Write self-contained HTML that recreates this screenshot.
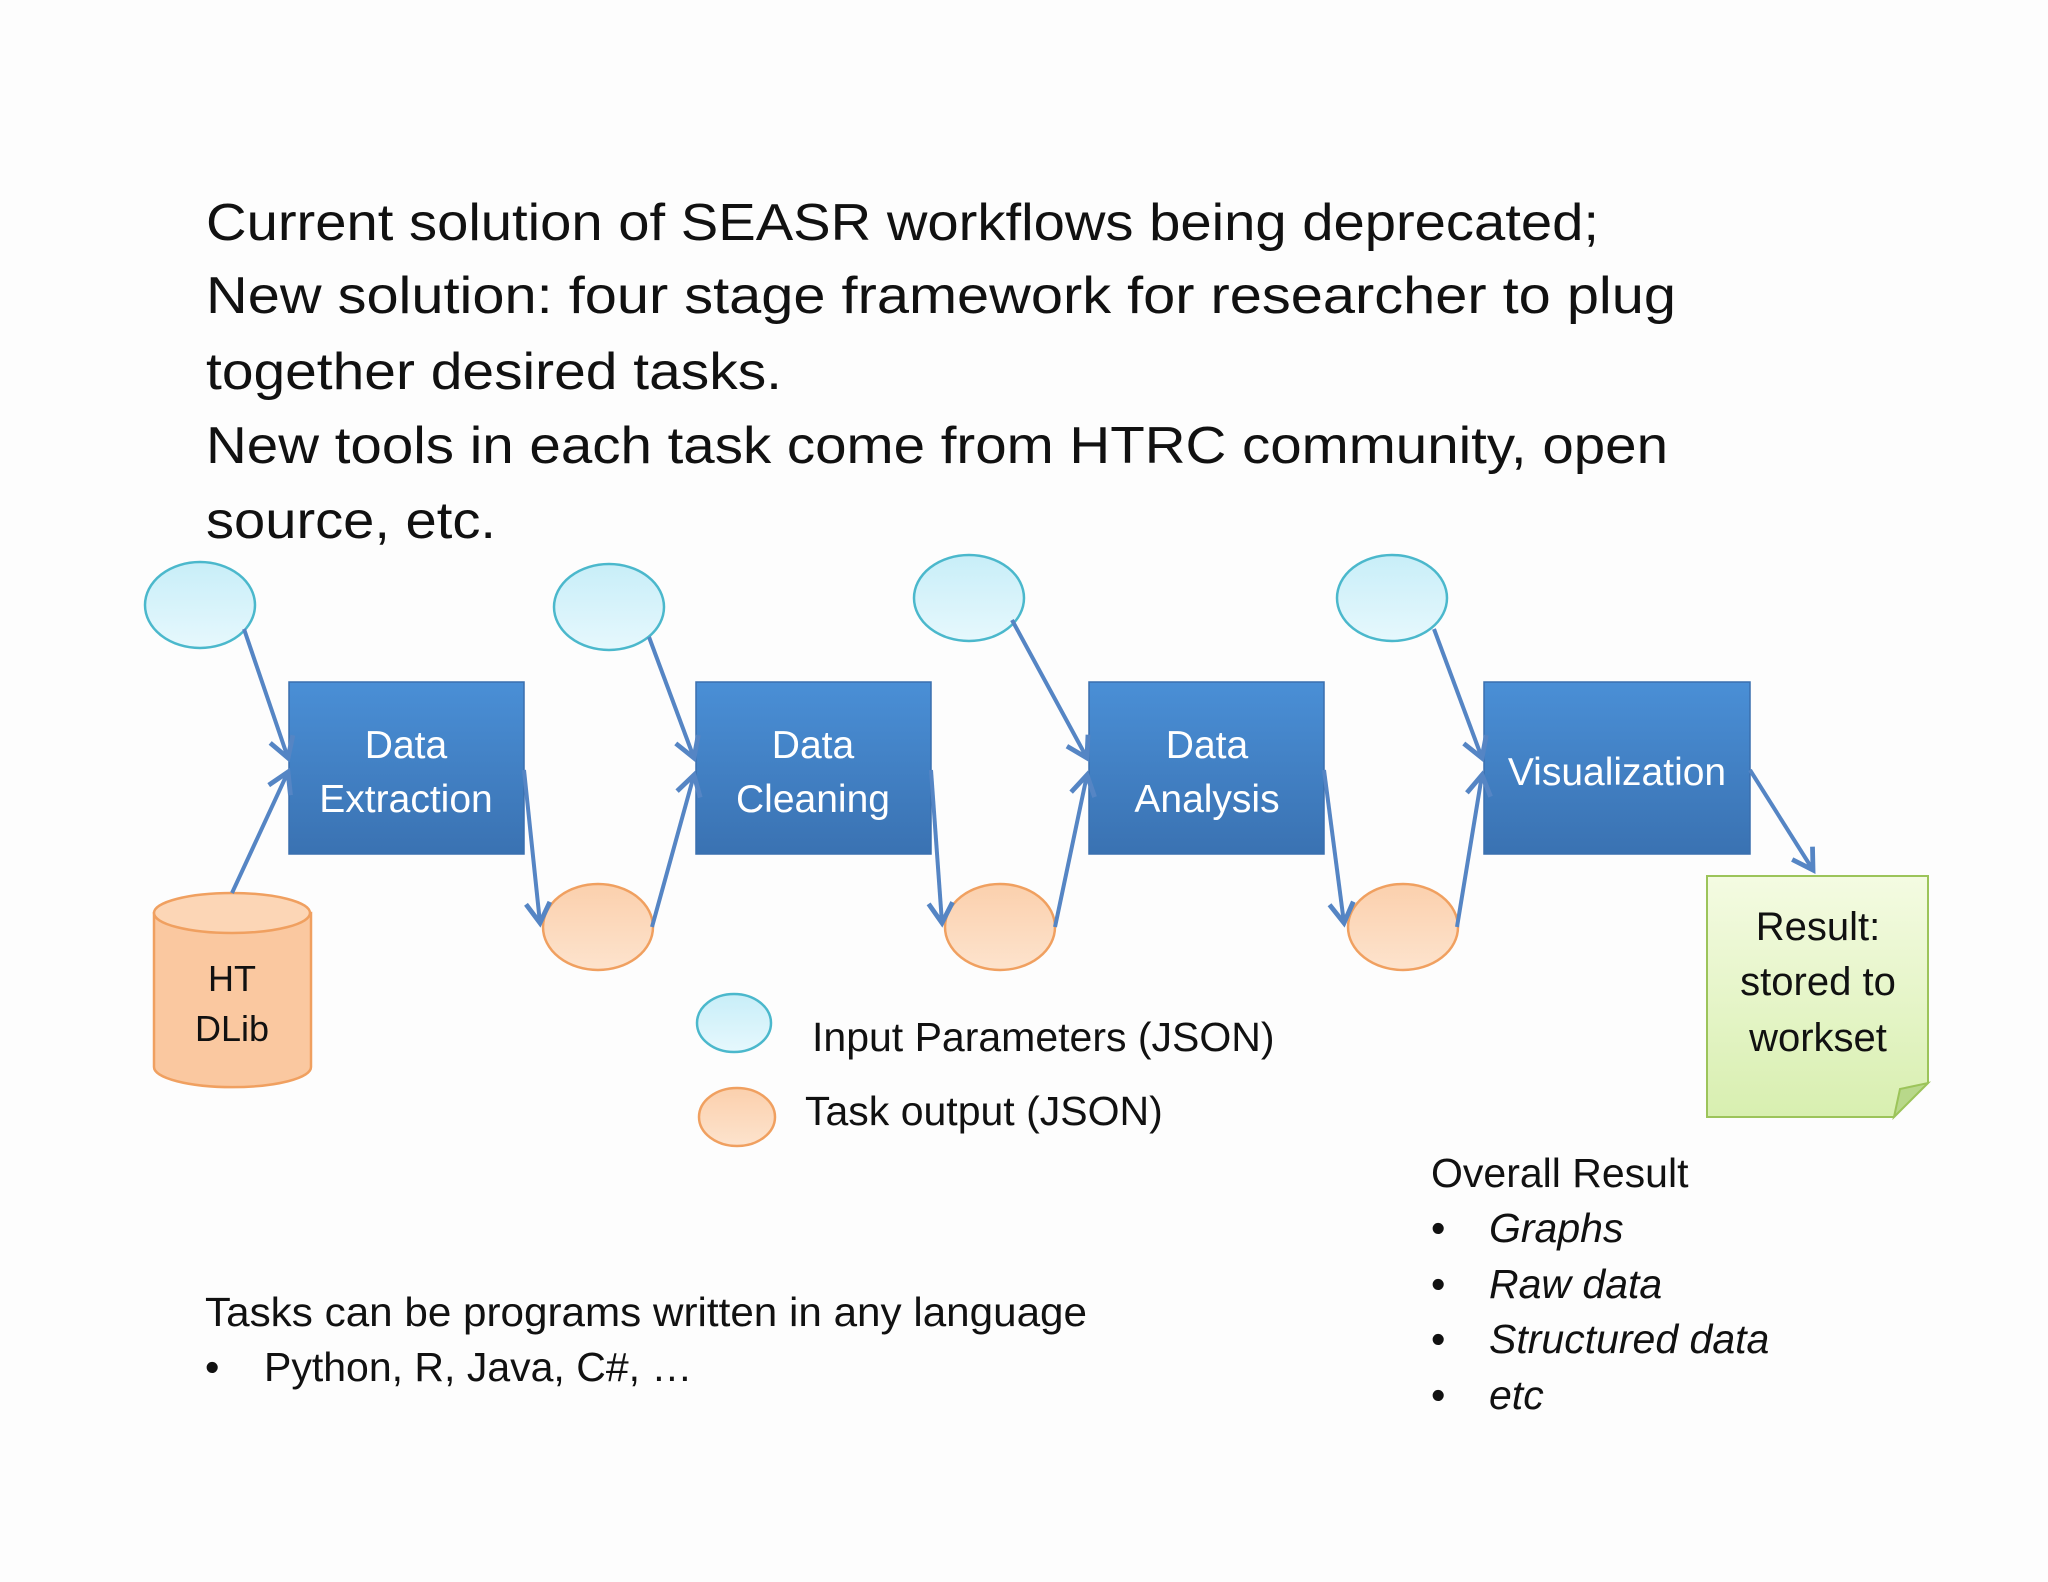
<!DOCTYPE html>
<html><head><meta charset="utf-8"><style>
html,body{margin:0;padding:0;background:#fdfdfd;}
svg{display:block;}
text{font-family:"Liberation Sans",sans-serif;}
</style></head><body>
<svg width="2048" height="1582" viewBox="0 0 2048 1582" xmlns="http://www.w3.org/2000/svg">
<defs>
<linearGradient id="bl" x1="0" y1="0" x2="0" y2="1"><stop offset="0" stop-color="#4a8fd6"/><stop offset="1" stop-color="#3a72b2"/></linearGradient>
<linearGradient id="cy" x1="0" y1="0" x2="0" y2="1"><stop offset="0" stop-color="#c8eef8"/><stop offset="1" stop-color="#e6f8fd"/></linearGradient>
<linearGradient id="or" x1="0" y1="0" x2="0" y2="1"><stop offset="0" stop-color="#fbd0ad"/><stop offset="1" stop-color="#fde3cd"/></linearGradient>
<linearGradient id="gr" x1="0" y1="0" x2="0" y2="1"><stop offset="0" stop-color="#f4fbe2"/><stop offset="1" stop-color="#d8efb0"/></linearGradient>
<marker id="ah" markerWidth="8" markerHeight="8" refX="6" refY="4" orient="auto" markerUnits="strokeWidth"><polyline points="1,1 6,4 1,7" fill="none" stroke="#5585c4" stroke-width="1.2"/></marker>
</defs>
<rect width="2048" height="1582" fill="#fdfdfd"/>

<g font-size="52" fill="#111">
<text x="206" y="240" textLength="1393" lengthAdjust="spacingAndGlyphs">Current solution of SEASR workflows being deprecated;</text>
<text x="206" y="313" textLength="1470" lengthAdjust="spacingAndGlyphs">New solution: four stage framework for researcher to plug</text>
<text x="206" y="389" textLength="576" lengthAdjust="spacingAndGlyphs">together desired tasks.</text>
<text x="206" y="463" textLength="1462" lengthAdjust="spacingAndGlyphs">New tools in each task come from HTRC community, open</text>
<text x="206" y="538" textLength="290" lengthAdjust="spacingAndGlyphs">source, etc.</text>
</g>

<!-- input ellipses -->
<g fill="url(#cy)" stroke="#4bb8cc" stroke-width="2.5">
<ellipse cx="200" cy="605" rx="55" ry="43"/>
<ellipse cx="609" cy="607" rx="55" ry="43"/>
<ellipse cx="969" cy="598" rx="55" ry="43"/>
<ellipse cx="1392" cy="598" rx="55" ry="43"/>
<ellipse cx="734" cy="1023" rx="37" ry="29"/>
</g>
<!-- output ellipses -->
<g fill="url(#or)" stroke="#f0a060" stroke-width="2.5">
<ellipse cx="598" cy="927" rx="55" ry="43"/>
<ellipse cx="1000" cy="927" rx="55" ry="43"/>
<ellipse cx="1403" cy="927" rx="55" ry="43"/>
<ellipse cx="737" cy="1117" rx="38" ry="29"/>
</g>

<!-- boxes -->
<g fill="url(#bl)" stroke="#3a6fae" stroke-width="1.5">
<rect x="289" y="682" width="235" height="172"/>
<rect x="696" y="682" width="235" height="172"/>
<rect x="1089" y="682" width="235" height="172"/>
<rect x="1484" y="682" width="266" height="172"/>
</g>
<g fill="#fff" font-size="39" text-anchor="middle">
<text x="406" y="758">Data</text><text x="406" y="812">Extraction</text>
<text x="813" y="758">Data</text><text x="813" y="812">Cleaning</text>
<text x="1207" y="758">Data</text><text x="1207" y="812">Analysis</text>
<text x="1617" y="785">Visualization</text>
</g>

<!-- cylinder -->
<path d="M154,913 L154,1067 A78,20 0 0 0 311,1067 L311,913 Z" fill="#fac8a0" stroke="#f0a060" stroke-width="2.5"/>
<ellipse cx="232" cy="913" rx="78" ry="20" fill="#fcd6b6" stroke="#f0a060" stroke-width="2.5"/>
<g font-size="36" fill="#111" text-anchor="middle"><text x="232" y="991">HT</text><text x="232" y="1041">DLib</text></g>

<!-- note -->
<path d="M1707,876 L1928,876 L1928,1083 L1894,1117 L1707,1117 Z" fill="url(#gr)" stroke="#9cc45a" stroke-width="2"/>
<path d="M1894,1117 L1900,1089 L1928,1083 Z" fill="#b8d88a" stroke="#9cc45a" stroke-width="2"/>
<g font-size="40" fill="#111" text-anchor="middle"><text x="1818" y="940">Result:</text><text x="1818" y="995">stored to</text><text x="1818" y="1051">workset</text></g>

<!-- arrows -->
<g stroke="#5585c4" stroke-width="4" fill="none" marker-end="url(#ah)">
<line x1="244" y1="629" x2="288" y2="758"/>
<line x1="232" y1="893" x2="288" y2="772"/>
<line x1="524" y1="770" x2="540" y2="923"/>
<line x1="652" y1="927" x2="694" y2="775"/>
<line x1="649" y1="637" x2="694" y2="758"/>
<line x1="931" y1="770" x2="942" y2="923"/>
<line x1="1055" y1="927" x2="1087" y2="775"/>
<line x1="1012" y1="620" x2="1087" y2="758"/>
<line x1="1324" y1="770" x2="1344" y2="923"/>
<line x1="1457" y1="927" x2="1482" y2="775"/>
<line x1="1434" y1="629" x2="1482" y2="758"/>
<line x1="1750" y1="770" x2="1813" y2="870"/>
</g>

<!-- legend -->
<g font-size="41" fill="#111">
<text x="812" y="1051">Input Parameters (JSON)</text>
<text x="805" y="1125">Task output (JSON)</text>
</g>

<!-- bottom left -->
<g font-size="41" fill="#111">
<text x="205" y="1326" textLength="882" lengthAdjust="spacingAndGlyphs">Tasks can be programs written in any language</text>
<text x="205" y="1381">•</text>
<text x="264" y="1381">Python, R, Java, C#, …</text>
</g>

<!-- overall result -->
<g font-size="41" fill="#111">
<text x="1431" y="1187">Overall Result</text>
<text x="1431" y="1242">•</text><text x="1489" y="1242" font-style="italic">Graphs</text>
<text x="1431" y="1298">•</text><text x="1489" y="1298" font-style="italic">Raw data</text>
<text x="1431" y="1353">•</text><text x="1489" y="1353" font-style="italic">Structured data</text>
<text x="1431" y="1409">•</text><text x="1489" y="1409" font-style="italic">etc</text>
</g>
</svg>
</body></html>
